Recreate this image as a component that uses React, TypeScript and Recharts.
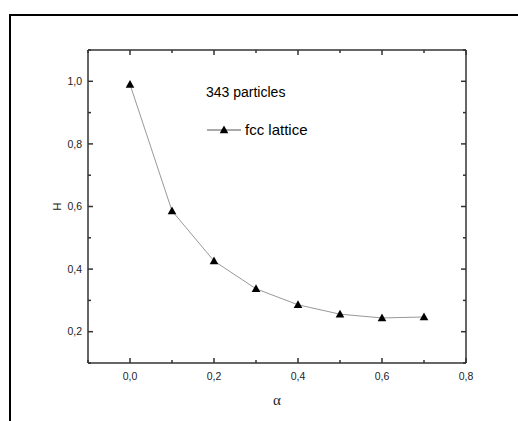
import { LineChart, Line, XAxis, YAxis, Legend } from 'recharts';

const alphaValues = [0, 0.1, 0.2, 0.3, 0.4, 0.5, 0.6, 0.7];
const hValues = [0.99, 0.586, 0.426, 0.337, 0.286, 0.256, 0.244, 0.247];
const xTicks = [-0.1, 0, 0.1, 0.2, 0.3, 0.4, 0.5, 0.6, 0.7, 0.8];
const yTicks = [0.1, 0.2, 0.3, 0.4, 0.5, 0.6, 0.7, 0.8, 0.9, 1.0, 1.1];
const seriesName = 'fcc lattice';
const noteText = '343 particles';
const xTitle = 'α';
const yTitle = 'H';

const data = alphaValues.map((a, i) => ({ alpha: a, h: hValues[i] }));

const AXIS = '#333';
const FONT = '"Liberation Sans", Arial, sans-serif';
const GAP_X = 10;
const GAP_Y = 6;

const isMajor = (v: number) => Math.round(v * 10) % 2 === 0;
const fmt = (v: number) => v.toFixed(1).replace('.', ',');
const tickLen = (v: number) => (isMajor(v) ? 5 : 3);

function BottomTick({ x, y, payload }: any) {
  const v = payload.value;
  const y0 = y - GAP_X;
  return (
    <g>
      <line x1={x} x2={x} y1={y0} y2={y0 - tickLen(v)} stroke={AXIS} strokeWidth={1.5} />
      {isMajor(v) && (
        <text x={x} y={y} dy="0.71em" textAnchor="middle" fontSize={10.5} fontFamily={FONT} fill="#222">
          {fmt(v)}
        </text>
      )}
    </g>
  );
}

function LeftTick({ x, y, payload }: any) {
  const v = payload.value;
  const x0 = x + GAP_Y;
  return (
    <g>
      <line x1={x0} x2={x0 + tickLen(v)} y1={y} y2={y} stroke={AXIS} strokeWidth={1.5} />
      {isMajor(v) && (
        <text x={x} y={y} dy="0.355em" textAnchor="end" fontSize={10.5} fontFamily={FONT} fill="#222">
          {fmt(v)}
        </text>
      )}
    </g>
  );
}

function TopTick({ x, y, payload }: any) {
  return <line x1={x} x2={x} y1={y} y2={y + tickLen(payload.value)} stroke={AXIS} strokeWidth={1.5} />;
}

function RightTick({ x, y, payload }: any) {
  return <line x1={x} x2={x - tickLen(payload.value)} y1={y} y2={y} stroke={AXIS} strokeWidth={1.5} />;
}

function Triangle({ cx, cy }: { cx: number; cy: number }) {
  return <path d={`M${cx},${cy - 4.5} L${cx + 4.3},${cy + 3.3} L${cx - 4.3},${cy + 3.3} Z`} fill="#000" />;
}

function LegendBox() {
  return (
    <div style={{ position: 'relative', width: 140, height: 56, fontFamily: FONT, color: '#000' }}>
      <div style={{ position: 'absolute', left: 0, top: 0, fontSize: 14, lineHeight: '16px', whiteSpace: 'nowrap' }}>
        {noteText}
      </div>
      <div style={{ position: 'absolute', left: 0, top: 38, height: 16, display: 'flex', alignItems: 'center' }}>
        <svg width={36} height={16}>
          <line x1={1} x2={35} y1={8} y2={8} stroke="#555" strokeWidth={1} />
          <Triangle cx={18} cy={8} />
        </svg>
        <span style={{ marginLeft: 3, fontSize: 15, lineHeight: '16px', whiteSpace: 'nowrap' }}>{seriesName}</span>
      </div>
    </div>
  );
}

export default function App() {
  return (
    <div style={{ position: 'absolute', left: 0, top: 0, width: 518, height: 421, overflow: 'hidden', background: '#fff' }}>
      <div
        style={{
          position: 'absolute', left: 9, top: 14, width: 700, height: 700,
          borderTop: '2px solid #000', borderLeft: '2px solid #000',
        }}
      />
      <div style={{ position: 'absolute', left: 0, top: 0 }}>
        <LineChart width={518} height={421} data={data} margin={{ top: 49, right: 51, bottom: 0, left: 0 }}>
          <XAxis
            xAxisId="bottom"
            dataKey="alpha"
            type="number"
            domain={[-0.1, 0.8]}
            allowDataOverflow
            ticks={xTicks}
            interval={0}
            height={58}
            tickSize={0}
            tickMargin={GAP_X}
            tickLine={false}
            axisLine={{ stroke: AXIS, strokeWidth: 1.5 }}
            tick={<BottomTick />}
            label={{
              content: ({ viewBox }: any) => (
                <text
                  x={viewBox.x + viewBox.width / 2}
                  y={viewBox.y + 42}
                  textAnchor="middle"
                  fontSize={15}
                  fontFamily='"Liberation Serif", serif'
                  fill="#222"
                >
                  {xTitle}
                </text>
              ),
            }}
          />
          <XAxis
            xAxisId="top"
            orientation="top"
            dataKey="alpha"
            type="number"
            domain={[-0.1, 0.8]}
            allowDataOverflow
            ticks={xTicks}
            interval={0}
            height={1}
            tickSize={0}
            tickMargin={0}
            tickLine={false}
            axisLine={{ stroke: AXIS, strokeWidth: 1.5 }}
            tick={<TopTick />}
          />
          <YAxis
            yAxisId="left"
            type="number"
            domain={[0.1, 1.1]}
            allowDataOverflow
            ticks={yTicks}
            interval={0}
            width={88}
            tickSize={0}
            tickMargin={GAP_Y}
            tickLine={false}
            axisLine={{ stroke: AXIS, strokeWidth: 1.5 }}
            tick={<LeftTick />}
            label={{
              content: ({ viewBox }: any) => {
                const cx = viewBox.x + 57;
                const cy = viewBox.y + viewBox.height / 2;
                return (
                  <text
                    x={cx}
                    y={cy}
                    dy="0.355em"
                    textAnchor="middle"
                    transform={`rotate(-90 ${cx} ${cy})`}
                    fontSize={11.5}
                    fontFamily={FONT}
                    fill="#222"
                  >
                    {yTitle}
                  </text>
                );
              },
            }}
          />
          <YAxis
            yAxisId="right"
            orientation="right"
            type="number"
            domain={[0.1, 1.1]}
            allowDataOverflow
            ticks={yTicks}
            interval={0}
            width={1}
            tickSize={0}
            tickMargin={0}
            tickLine={false}
            axisLine={{ stroke: AXIS, strokeWidth: 1.5 }}
            tick={<RightTick />}
          />
          <Legend
            layout="vertical"
            align="center"
            verticalAlign="middle"
            wrapperStyle={{ left: 206, top: 84, width: 140 }}
            content={() => <LegendBox />}
          />
          <Line
            xAxisId="top"
            yAxisId="right"
            dataKey="h"
            stroke="none"
            dot={false}
            activeDot={false}
            legendType="none"
            isAnimationActive={false}
          />
          <Line
            xAxisId="bottom"
            yAxisId="left"
            name={seriesName}
            dataKey="h"
            type="linear"
            stroke="#999"
            strokeWidth={1}
            dot={(p: any) => <Triangle key={`t${p.index}`} cx={p.cx} cy={p.cy} />}
            activeDot={false}
            isAnimationActive={false}
          />
        </LineChart>
      </div>
    </div>
  );
}
